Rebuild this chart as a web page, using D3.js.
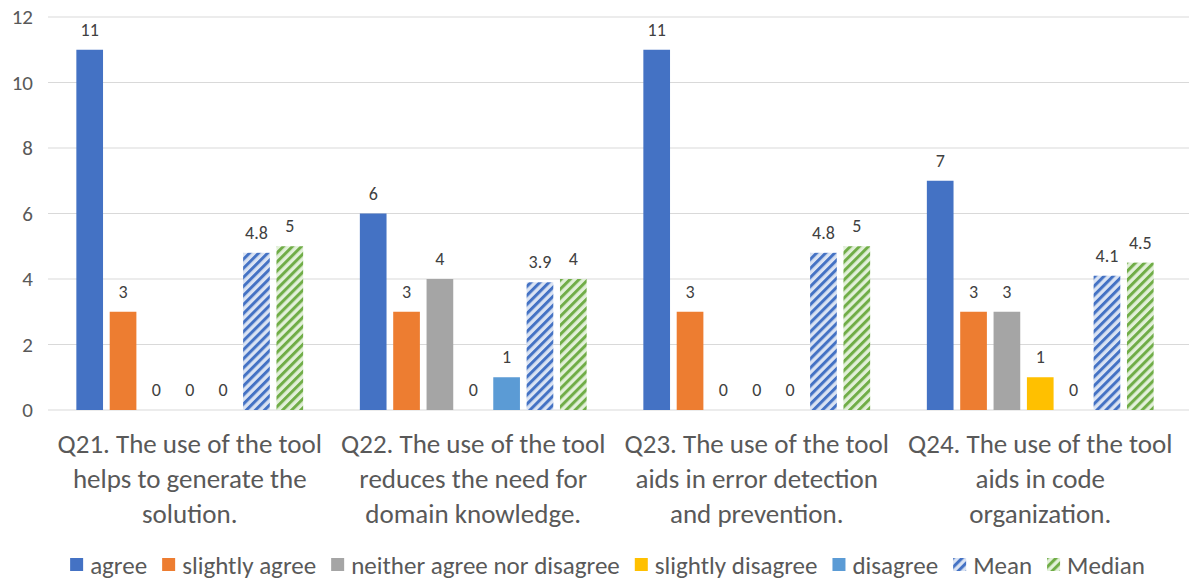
<!DOCTYPE html>
<html><head><meta charset="utf-8">
<script src="https://cdn.jsdelivr.net/npm/d3@7"></script>
<style>body{margin:0;background:#fff;} svg{display:block;}</style>
</head><body>
<svg id="chart" width="1189" height="581"></svg>
<script>
const categories = [
  ["Q21. The use of the tool","helps to generate the","solution."],
  ["Q22. The use of the tool","reduces the need for","domain knowledge."],
  ["Q23. The use of the tool","aids in error detection","and prevention."],
  ["Q24. The use of the tool","aids in code","organization."]
];
const seriesNames = ["agree","slightly agree","neither agree nor disagree","slightly disagree","disagree","Mean","Median"];
const agree = [11, 6, 11, 7];
const slightlyAgree = [3, 3, 3, 3];
const neither = [0, 4, 0, 3];
const slightlyDisagree = [0, 0, 0, 1];
const disagree = [0, 1, 0, 0];
const mean = [4.8, 3.9, 4.8, 4.1];
const median = [5, 4, 5, 4.5];
const yTicks = [0, 2, 4, 6, 8, 10, 12];

const seriesValues = [agree, slightlyAgree, neither, slightlyDisagree, disagree, mean, median];
const fills = ["#4472C4","#ED7D31","#A5A5A5","#FFC000","#5B9BD5","url(#hMean)","url(#hMedian)"];
const font = "Calibri, Carlito, 'Open Sans', sans-serif";

const svg = d3.select("#chart");
const defs = svg.append("defs");
function hatch(id, bg, fg){
  const p = defs.append("pattern").attr("id", id).attr("patternUnits","userSpaceOnUse")
    .attr("width", 6.4).attr("height", 6.4).attr("patternTransform","rotate(45)");
  p.append("rect").attr("width",6.4).attr("height",6.4).attr("fill",bg);
  p.append("rect").attr("x",0).attr("width",3).attr("height",6.4).attr("fill",fg);
}
hatch("hMean", "#DAE3F3", "#4472C4");
hatch("hMedian", "#E2F0D9", "#70AD47");

const plotLeft = 48, plotRight = 1189, plotTop = 17, plotBottom = 410;
const y = d3.scaleLinear().domain([0, 12]).range([plotBottom, plotTop]);
const x0 = d3.scaleBand().domain(d3.range(categories.length)).range([48, 1182]).padding(0);
const x1 = d3.scaleBand().domain(d3.range(seriesNames.length)).range([0, x0.bandwidth()])
  .paddingInner(0.2).paddingOuter(0.85);

svg.append("g").selectAll("line").data(yTicks).join("line")
  .attr("x1", plotLeft).attr("x2", plotRight)
  .attr("y1", d => y(d)).attr("y2", d => y(d))
  .attr("stroke", "#D9D9D9").attr("stroke-width", 1);

svg.append("g").selectAll("text").data(yTicks).join("text")
  .attr("x", 33).attr("y", d => y(d)).attr("dy", "0.35em")
  .attr("text-anchor", "end").attr("font-family", font).attr("font-size", 21)
  .attr("fill", "#595959").text(d => d);

const groups = svg.append("g").selectAll("g").data(categories).join("g")
  .attr("transform", (d, i) => `translate(${x0(i)},0)`);
groups.each(function(_, gi){
  const g = d3.select(this);
  seriesValues.forEach((vals, si) => {
    const v = vals[gi];
    if (v > 0) {
      g.append("rect").attr("x", x1(si)).attr("width", x1.bandwidth())
        .attr("y", y(v)).attr("height", y(0) - y(v)).attr("fill", fills[si]);
    }
    g.append("text").attr("x", x1(si) + x1.bandwidth()/2).attr("y", y(v) - 14)
      .attr("text-anchor", "middle").attr("font-family", font).attr("font-size", 18)
      .attr("fill", "#404040").text(v);
  });
  const cat = categories[gi];
  cat.forEach((line, li) => {
    g.append("text").attr("x", x0.bandwidth()/2).attr("y", 453 + li*35)
      .attr("text-anchor","middle").attr("font-family", font).attr("font-size", 27)
      .attr("fill", "#595959").text(line);
  });
});

const leg = svg.append("g");
let cx = 0;
const itemGap = 15;
seriesNames.forEach((name, i) => {
  const it = leg.append("g");
  it.append("rect").attr("x", 0).attr("y", -7).attr("width", 13).attr("height", 13).attr("fill", fills[i]);
  const t = it.append("text").attr("x", 20).attr("y", 0).attr("dy", "0.35em")
    .attr("font-family", font).attr("font-size", 25).attr("fill", "#595959").text(name);
  const w = t.node().getComputedTextLength();
  it.attr("transform", `translate(${cx},0)`);
  cx += 20 + w + itemGap;
});
const totalW = cx - itemGap;
leg.attr("transform", `translate(${(69 + 1146)/2 - totalW/2},565)`);
</script>
</body></html>
